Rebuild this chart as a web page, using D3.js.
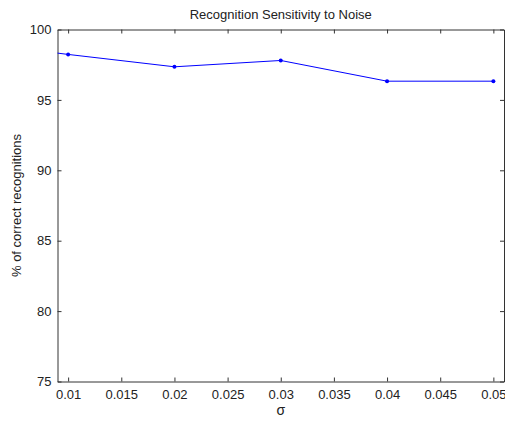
<!DOCTYPE html>
<html>
<head>
<meta charset="utf-8">
<script src="https://cdn.jsdelivr.net/npm/d3@7"></script>
<style>
  html, body { margin: 0; padding: 0; background: #fff; }
  svg text { font-family: "Liberation Sans", Arial, sans-serif; fill: #222; }
</style>
</head>
<body>
<div id="chart"></div>
<script>
// noise level (sigma) vs recognition rate, first point lies outside the x limits
var sigmas = [0.005, 0.01, 0.02, 0.03, 0.04, 0.05];
var correctPct = [98.7, 98.23, 97.35, 97.8, 96.33, 96.33];
var xTicks = [0.01, 0.015, 0.02, 0.025, 0.03, 0.035, 0.04, 0.045, 0.05];
var yTicks = [75, 80, 85, 90, 95, 100];

var W = 505, H = 421;
var mLeft = 57.5, mRight = 504, mTop = 29.5, mBottom = 381.5;

var svg = d3.select("#chart").append("svg")
	.attr("width", W)
	.attr("height", H);

var x = d3.scaleLinear().domain([0.009, 0.051]).range([mLeft, mRight]);
var y = d3.scaleLinear().domain([75, 100]).range([mBottom, mTop]);

svg.append("defs").append("clipPath").attr("id", "clip")
  .append("rect")
	.attr("x", mLeft).attr("y", mTop)
	.attr("width", mRight - mLeft).attr("height", mBottom - mTop);

var fmt = function(d) { return String(+d.toFixed(3)); };

// bottom + top axes (ticks inward)
svg.append("g")
	.attr("transform", "translate(0," + mBottom + ")")
	.call(d3.axisBottom(x).tickValues(xTicks).tickSizeInner(-4).tickSizeOuter(0).tickPadding(8).tickFormat(fmt));
svg.append("g")
	.attr("transform", "translate(0," + mTop + ")")
	.call(d3.axisTop(x).tickValues(xTicks).tickSizeInner(-4).tickSizeOuter(0).tickFormat(""));

svg.append("g")
	.attr("transform", "translate(" + mLeft + ",0)")
	.call(d3.axisLeft(y).tickValues(yTicks).tickSizeInner(-4).tickSizeOuter(0).tickPadding(6));
svg.append("g")
	.attr("transform", "translate(" + mRight + ",0)")
	.call(d3.axisRight(y).tickValues(yTicks).tickSizeInner(-4).tickSizeOuter(0).tickFormat(""));

svg.selectAll(".domain").attr("stroke", "#333");
svg.selectAll(".tick line").attr("stroke", "#333");
svg.selectAll(".tick text").attr("font-size", "13px").attr("fill", "#222")
	.style("font-family", "Liberation Sans, Arial, sans-serif");

// line
var pts = sigmas.map(function(s, i) { return [s, correctPct[i]]; });
var plot = svg.append("g").attr("clip-path", "url(#clip)");
plot.append("path")
	.datum(pts)
	.attr("fill", "none")
	.attr("stroke", "#0000ff")
	.attr("stroke-width", 1)
	.attr("d", d3.line().x(function(d) { return x(d[0]); }).y(function(d) { return y(d[1]); }));
plot.selectAll(".pt")
	.data(pts)
  .enter().append("circle")
	.attr("class", "pt")
	.attr("cx", function(d) { return x(d[0]); })
	.attr("cy", function(d) { return y(d[1]); })
	.attr("r", 2)
	.attr("fill", "#0000ff");

// labels
svg.append("text")
	.attr("x", (mLeft + mRight) / 2)
	.attr("y", 19)
	.attr("text-anchor", "middle")
	.attr("font-size", "13px")
	.text("Recognition Sensitivity to Noise");

svg.append("text")
	.attr("x", (mLeft + mRight) / 2)
	.attr("y", 415)
	.attr("text-anchor", "middle")
	.attr("font-size", "14px")
	.text("σ");

svg.append("text")
	.attr("transform", "translate(21," + (mTop + mBottom) / 2 + ") rotate(-90)")
	.attr("text-anchor", "middle")
	.attr("font-size", "13px")
	.text("% of correct recognitions");
</script>
</body>
</html>
